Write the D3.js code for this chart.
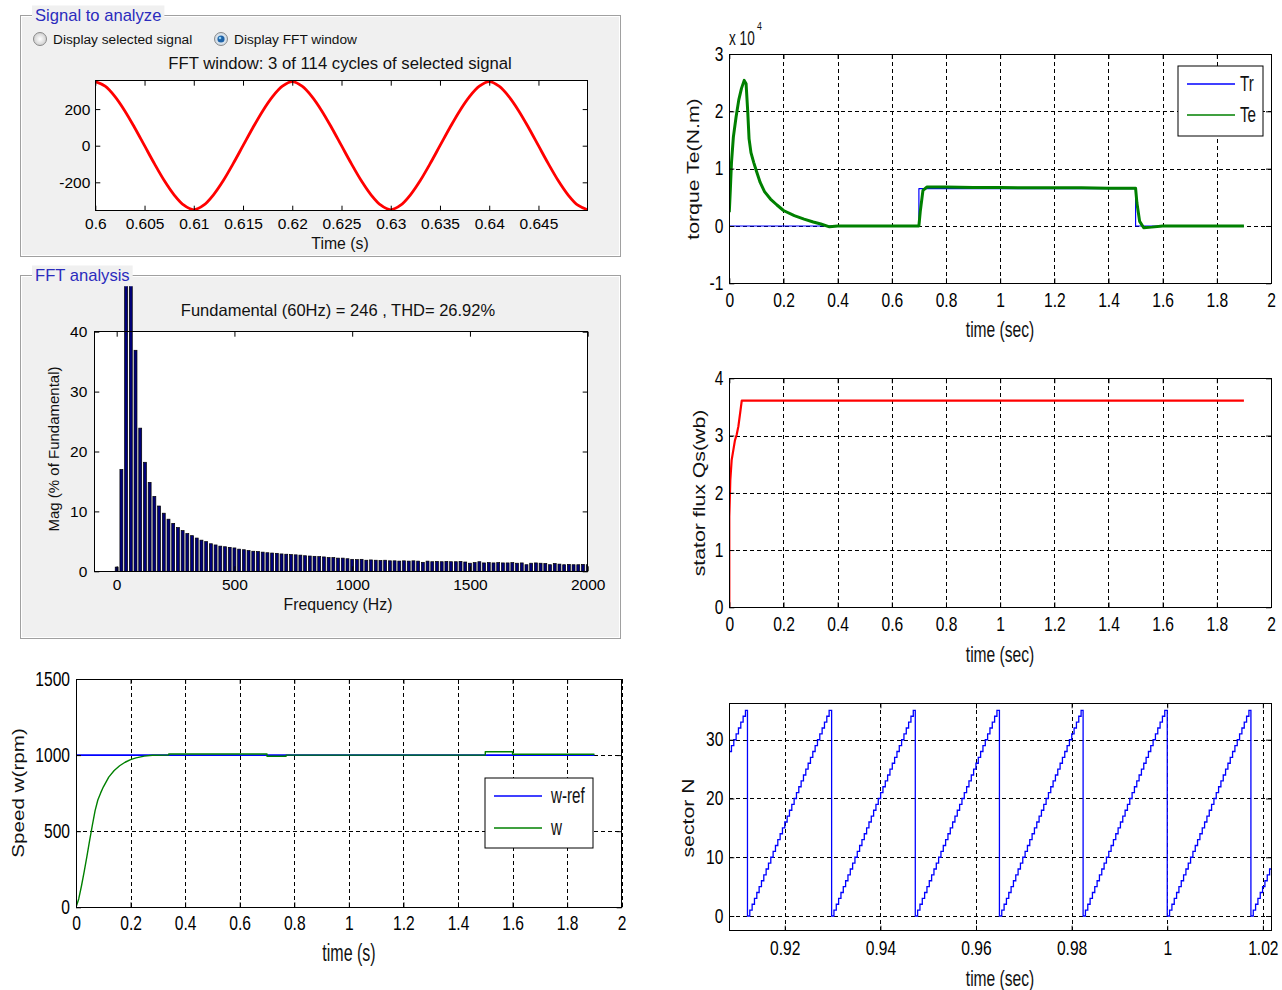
<!DOCTYPE html>
<html>
<head>
<meta charset="utf-8">
<script src="https://cdn.jsdelivr.net/npm/d3@7"></script>
<style>
  body { margin: 0; background: #fff; }
  svg text { font-family: "Liberation Sans", Arial, sans-serif; }
</style>
</head>
<body>
<svg id="fig" width="1282" height="990"></svg>
<script>
// ================= data =================
// signal in the FFT window (sampled every 1 ms from 0.6 s)
const sigStart = 0.6, sigStep = 0.001;
const sigValues = [350, 325, 268, 190, 98, 0, -98, -190, -268, -325, -350,
                   -325, -268, -190, -98, 0, 98, 190, 268, 325, 350,
                   325, 268, 190, 98, 0, -98, -190, -268, -325, -350,
                   -325, -268, -190, -98, 0, 98, 190, 268, 325, 350,
                   325, 268, 190, 98, 0, -98, -190, -268, -325, -350];
const sigXTicks = [0.6, 0.605, 0.61, 0.615, 0.62, 0.625, 0.63, 0.635, 0.64, 0.645];
const sigYTicks = [-200, 0, 200];

// FFT spectrum, one bar every 20 Hz from 0 to 2000 Hz (% of fundamental)
const fftStep = 20;
const fftMag = [0.7, 17.0, 48, 100, 36.9, 23.9, 18.2, 14.85, 12.5, 10.9,
                9.7, 8.7, 8.0, 7.3, 6.8, 6.3, 5.95, 5.55, 5.2, 4.95,
                4.6, 4.4, 4.2, 4.1, 4.0, 3.9, 3.7, 3.6, 3.45, 3.35,
                3.3, 3.2, 3.1, 3.05, 3.0, 2.9, 2.85, 2.8, 2.75, 2.7,
                2.6, 2.55, 2.5, 2.45, 2.4, 2.3, 2.3, 2.2, 2.2, 2.1,
                2.0, 1.95, 2.0, 1.85, 1.9, 1.85, 1.8, 1.85, 1.75, 1.75,
                1.7, 1.75, 1.7, 1.75, 1.7, 1.5, 1.7, 1.6, 1.65, 1.6,
                1.65, 1.6, 1.6, 1.65, 1.55, 1.35, 1.45, 1.6, 1.4, 1.45,
                1.4, 1.45, 1.4, 1.4, 1.45, 1.35, 1.4, 1.1, 1.35, 1.4,
                1.35, 1.3, 1.1, 1.3, 1.2, 1.1, 1.15, 1.1, 1.1, 1.15, 1.1];
const fftXTicks = [0, 500, 1000, 1500, 2000];
const fftYTicks = [0, 10, 20, 30, 40];

// speed (rpm)
const speedRefT = [0, 1.9];
const speedRef = [1000, 1000];
const speedT = [0, 0.01, 0.02, 0.03, 0.04, 0.05, 0.06, 0.07, 0.08, 0.09, 0.1, 0.12, 0.14, 0.16, 0.18,
                0.2, 0.22, 0.25, 0.28, 0.34, 0.34, 0.7, 0.7, 0.77, 0.77, 1.5, 1.5, 1.6, 1.6, 1.9];
const speedW = [0, 55, 140, 235, 335, 440, 540, 635, 705, 750, 790, 855, 899, 930, 953,
                970, 982, 993, 999, 1000, 1007, 1007, 992, 992, 1000, 1000, 1022, 1022, 1006, 1006];
const speedXTicks = [0, 0.2, 0.4, 0.6, 0.8, 1, 1.2, 1.4, 1.6, 1.8, 2];
const speedYTicks = [0, 500, 1000, 1500];

// torque (N.m)
const trT = [0, 0.7, 0.7, 1.5, 1.5, 1.9];
const trV = [0, 0, 6500, 6500, 0, 0];
const teT = [0, 0.004, 0.008, 0.015, 0.025, 0.035, 0.045, 0.055, 0.062, 0.068, 0.073, 0.08, 0.09, 0.1,
             0.114, 0.13, 0.152, 0.175, 0.2, 0.24, 0.276, 0.31, 0.338, 0.37, 0.4, 0.5, 0.6, 0.7, 0.705,
             0.715, 0.73, 0.8, 0.9, 1.0, 1.1, 1.2, 1.3, 1.4, 1.5, 1.505, 1.515, 1.53, 1.56, 1.6, 1.7, 1.8, 1.9];
const teV = [2400, 6500, 11000, 15500, 19000, 22000, 24000, 25400, 24800, 20000, 15200, 12800, 11100, 9600,
             7600, 6000, 4700, 3700, 2700, 1800, 1200, 700, 350, -150, 0, 0, 0, 0, 2500,
             6200, 6800, 6800, 6700, 6700, 6650, 6650, 6650, 6600, 6600, 4000, 800, -300, -200, 0, 0, 0, 0];
const timeTicks = [0, 0.2, 0.4, 0.6, 0.8, 1, 1.2, 1.4, 1.6, 1.8, 2];
const torqueYTicks = [-10000, 0, 10000, 20000, 30000];

// stator flux (Wb)
const fluxT = [0, 0, 0.0037, 0.0087, 0.015, 0.021, 0.027, 0.0335, 0.04, 0.046, 1.9];
const fluxV = [0, 1.58, 2.22, 2.57, 2.75, 2.92, 3.01, 3.16, 3.39, 3.61, 3.61];
const fluxYTicks = [0, 1, 2, 3, 4];

// sector number: reset instants and the 36 sector levels stepped through each turn
const sectorResets = [0.8947, 0.9122, 0.9298, 0.9473, 0.9649, 0.9824, 1.0000, 1.0175];
const sectorLevels = [0, 1, 2, 3, 4, 5, 6, 7, 8, 9, 10, 11, 12, 13, 14, 15, 16, 17,
                      18, 19, 20, 21, 22, 23, 24, 25, 26, 27, 28, 29, 30, 31, 32, 33, 34, 35];
const sectorStepTime = 0.000488;
const sectorXTicks = [0.92, 0.94, 0.96, 0.98, 1.0, 1.02];
const sectorYTicks = [0, 10, 20, 30];

// ================= helpers =================
const FONT = '"Liberation Sans", Arial, sans-serif';
const svg = d3.select('#fig');
let clipId = 0;

function num(d) { return String(+d.toFixed(3)); }

// a MATLAB-like axes: white box, inward ticks on all sides, optional dashed grid
function makeAxes(o) {
  let g = svg.append('g').attr('transform', `translate(${o.left},${o.top})`);
  let x = d3.scaleLinear().domain(o.xDomain).range([0, o.width]);
  let y = d3.scaleLinear().domain(o.yDomain).range([o.height, 0]);
  g.append('rect').attr('width', o.width).attr('height', o.height).attr('fill', '#fff');

  if (o.grid) {
    let gx = g.append('g').attr('transform', `translate(0,${o.height})`)
      .call(d3.axisBottom(x).tickValues(o.xTicks).tickSize(-o.height).tickFormat(''));
    let gy = g.append('g')
      .call(d3.axisLeft(y).tickValues(o.yTicks).tickSize(-o.width).tickFormat(''));
    [gx, gy].forEach(s => {
      s.select('.domain').remove();
      s.selectAll('line').attr('stroke', '#000').attr('stroke-dasharray', '4,3')
        .attr('shape-rendering', 'crispEdges');
    });
  }

  clipId++;
  let ct = o.clipTop || 0;
  g.append('clipPath').attr('id', 'clip' + clipId)
    .append('rect').attr('y', -ct).attr('width', o.width).attr('height', o.height + ct);
  let plot = g.append('g').attr('clip-path', `url(#clip${clipId})`);

  let sx = o.squeeze || 1;
  let tk = 5;
  let bottom = g.append('g').attr('transform', `translate(0,${o.height})`)
    .call(d3.axisBottom(x).tickValues(o.xTicks).tickSize(-tk).tickSizeOuter(0)
      .tickPadding(o.xPad).tickFormat(o.xFmt || num));
  let left = g.append('g')
    .call(d3.axisLeft(y).tickValues(o.yTicks).tickSize(-tk).tickSizeOuter(0)
      .tickPadding(o.yPad).tickFormat(o.yFmt || num));
  let top = g.append('g')
    .call(d3.axisTop(x).tickValues(o.xTicks).tickSize(-tk).tickSizeOuter(0).tickFormat(''));
  let right = g.append('g').attr('transform', `translate(${o.width},0)`)
    .call(d3.axisRight(y).tickValues(o.yTicks).tickSize(-tk).tickSizeOuter(0).tickFormat(''));
  [bottom, left, top, right].forEach(s => s.select('.domain').remove());
  [bottom, left].forEach(s => s.attr('font-size', o.fontSize).attr('font-family', FONT).attr('color', '#000'));
  [top, right].forEach(s => s.attr('color', '#000'));
  bottom.selectAll('text').attr('transform', `scale(${sx},1)`);
  left.selectAll('text').attr('x', -o.yPad / sx).attr('transform', `scale(${sx},1)`);

  g.append('rect').attr('width', o.width).attr('height', o.height)
    .attr('fill', 'none').attr('stroke', '#000').attr('shape-rendering', 'crispEdges');
  return { x, y, plot };
}

function addText(x, y, str, size, opts) {
  opts = opts || {};
  let sx = opts.sx || 1, sy = opts.sy || 1;
  let t = svg.append('text')
    .attr('transform', `translate(${x},${y}) rotate(${opts.rotate || 0}) scale(${sx},${sy})`)
    .attr('font-size', size)
    .attr('text-anchor', opts.anchor || 'middle')
    .attr('fill', opts.fill || '#111')
    .text(str);
  return t;
}

function drawLine(a, xs, ys, color, width, curve) {
  let pts = xs.map((t, i) => [t, ys[i]]);
  a.plot.append('path').datum(pts)
    .attr('fill', 'none').attr('stroke', color).attr('stroke-width', width)
    .attr('stroke-linejoin', 'round')
    .attr('d', d3.line().x(d => a.x(d[0])).y(d => a.y(d[1])).curve(curve || d3.curveLinear));
}

function legend(x0, y0, w, h, items, size, textX) {
  svg.append('rect').attr('x', x0).attr('y', y0).attr('width', w).attr('height', h)
    .attr('fill', '#fff').attr('stroke', '#000');
  items.forEach(it => {
    svg.append('line').attr('x1', x0 + 9).attr('x2', x0 + 57).attr('y1', it.y).attr('y2', it.y)
      .attr('stroke', it.color).attr('stroke-width', 1.5);
    addText(x0 + textX, it.y + 7, it.label, size, { anchor: 'start', sx: 0.8, sy: 1.15 });
  });
}

function guiPanel(x0, y0, x1, y1, title) {
  svg.append('rect').attr('x', x0 + 0.5).attr('y', y0 + 0.5)
    .attr('width', x1 - x0).attr('height', y1 - y0)
    .attr('fill', '#f0f0f0').attr('stroke', '#a0a0a0');
  svg.append('rect').attr('x', x0 + 1.5).attr('y', y0 + 1.5)
    .attr('width', x1 - x0 - 2).attr('height', y1 - y0 - 2)
    .attr('fill', 'none').attr('stroke', '#fff');
  let bg = svg.append('rect').attr('fill', '#f0f0f0');
  let t = svg.append('text').attr('x', x0 + 15).attr('y', y0 + 5.5)
    .attr('font-size', 16.6).attr('fill', '#2b2bbd').text(title);
  let bb = t.node().getBBox();
  bg.attr('x', bb.x - 3).attr('y', bb.y).attr('width', bb.width + 6).attr('height', bb.height);
}

function radio(cx, cy, selected, label) {
  let grad = selected ? 'url(#radioOn)' : 'url(#radioOff)';
  svg.append('circle').attr('cx', cx).attr('cy', cy).attr('r', 6.5)
    .attr('fill', grad).attr('stroke', '#8a8a8a');
  if (selected) {
    svg.append('circle').attr('cx', cx).attr('cy', cy).attr('r', 3.6).attr('fill', '#1f63a8');
    svg.append('circle').attr('cx', cx - 1).attr('cy', cy - 1).attr('r', 1.3).attr('fill', '#8fd3f5');
  }
  addText(cx + 13, cy + 5, label, 13.7, { anchor: 'start' });
}

let defs = svg.append('defs');
let g1 = defs.append('radialGradient').attr('id', 'radioOff');
g1.append('stop').attr('offset', '0%').attr('stop-color', '#ffffff');
g1.append('stop').attr('offset', '100%').attr('stop-color', '#cfcfcf');
let g2 = defs.append('radialGradient').attr('id', 'radioOn');
g2.append('stop').attr('offset', '0%').attr('stop-color', '#ffffff');
g2.append('stop').attr('offset', '100%').attr('stop-color', '#c9d7e3');

// ================= Signal to analyze panel =================
guiPanel(20, 15, 620, 256, 'Signal to analyze');
radio(40, 39, false, 'Display selected signal');
radio(221, 39, true, 'Display FFT window');
addText(340, 69, 'FFT window: 3 of 114 cycles of selected signal', 16.7);

let sig = makeAxes({
  left: 95.3, top: 80.7, width: 492.4, height: 130,
  xDomain: [0.6, 0.65], yDomain: [-355, 355],
  xTicks: sigXTicks, yTicks: sigYTicks,
  xPad: 7, yPad: 5, fontSize: 15.5
});
drawLine(sig, sigValues.map((v, i) => sigStart + i * sigStep), sigValues, '#ff0000', 2.8, d3.curveCatmullRom);
addText(340, 249, 'Time (s)', 15.8);

// ================= FFT analysis panel =================
guiPanel(20, 275, 620, 638, 'FFT analysis');
addText(338, 316, 'Fundamental (60Hz) = 246 , THD= 26.92%', 16.5);

let fft = makeAxes({
  left: 94.3, top: 331.7, width: 493.4, height: 239.6,
  xDomain: [-95, 2000], yDomain: [0, 40],
  xTicks: fftXTicks, yTicks: fftYTicks,
  xPad: 8, yPad: 7, fontSize: 15.5, clipTop: 45.5
});
let bw = (fft.x(fftStep) - fft.x(0)) * 0.62;
fft.plot.selectAll('rect.bar')
  .data(fftMag)
  .enter()
  .append('rect')
  .attr('class', 'bar')
  .attr('x', (d, i) => fft.x(i * fftStep) - bw / 2)
  .attr('y', d => fft.y(d))
  .attr('width', bw)
  .attr('height', d => fft.y(0) - fft.y(d))
  .attr('fill', '#00007a')
  .attr('stroke', '#000')
  .attr('stroke-width', 0.7);
addText(338, 610, 'Frequency (Hz)', 15.8);
addText(59, 449, 'Mag (% of Fundamental)', 15, { rotate: -90 });

// ================= speed =================
let sp = makeAxes({
  left: 76, top: 679, width: 545.7, height: 228.3,
  xDomain: [0, 2], yDomain: [0, 1500],
  xTicks: speedXTicks, yTicks: speedYTicks,
  xPad: 9, yPad: 6, fontSize: 19.5, squeeze: 0.8, grid: true
});
drawLine(sp, speedRefT, speedRef, '#0000ff', 1.6);
drawLine(sp, speedT, speedW, '#008000', 1.4);
addText(349, 961, 'time (s)', 20, { sx: 0.8, sy: 1.15 });
addText(24, 793, 'Speed w(rpm)', 16, { rotate: -90, sx: 1.29 });
legend(485, 778, 108, 70, [
  { y: 796, color: '#0000ff', label: 'w-ref' },
  { y: 828, color: '#008000', label: 'w' }
], 19, 66);

// ================= torque =================
let tq = makeAxes({
  left: 729.3, top: 54, width: 541.7, height: 229.3,
  xDomain: [0, 2], yDomain: [-10000, 30000],
  xTicks: timeTicks, yTicks: torqueYTicks,
  xPad: 10, yPad: 6, fontSize: 19.5, squeeze: 0.8, grid: true,
  yFmt: d => String(d / 10000)
});
drawLine(tq, trT, trV, '#0000ff', 1.2);
drawLine(tq, teT, teV, '#008000', 3);
addText(1000, 337, 'time (sec)', 19.5, { sx: 0.8, sy: 1.15 });
addText(699, 169, 'torque Te(N.m)', 16, { rotate: -90, sx: 1.33 });
addText(729, 45, 'x 10', 17, { anchor: 'start', sx: 0.8, sy: 1.15 });
addText(757, 30, '4', 11, { anchor: 'start', sx: 0.8 });
legend(1178, 66, 85, 70, [
  { y: 84, color: '#0000ff', label: 'Tr' },
  { y: 115, color: '#008000', label: 'Te' }
], 19, 62);

// ================= stator flux =================
let fl = makeAxes({
  left: 729.3, top: 378.3, width: 541.7, height: 229,
  xDomain: [0, 2], yDomain: [0, 4],
  xTicks: timeTicks, yTicks: fluxYTicks,
  xPad: 10, yPad: 6, fontSize: 19.5, squeeze: 0.8, grid: true
});
drawLine(fl, fluxT, fluxV, '#ff0000', 2.2);
addText(1000, 662, 'time (sec)', 19.5, { sx: 0.8, sy: 1.15 });
addText(705, 493, 'stator flux Qs(wb)', 16, { rotate: -90, sx: 1.33 });

// ================= sector =================
let sectorPts = [];
sectorResets.forEach(r => sectorLevels.forEach((n, k) => sectorPts.push([r + k * sectorStepTime, n])));
let se = makeAxes({
  left: 729.3, top: 703.3, width: 541.7, height: 227.4,
  xDomain: [0.9084, 1.0217], yDomain: [-2.5, 36.2],
  xTicks: sectorXTicks, yTicks: sectorYTicks,
  xPad: 10, yPad: 6, fontSize: 19.5, squeeze: 0.8, grid: true
});
se.plot.append('path').datum(sectorPts)
  .attr('fill', 'none').attr('stroke', '#0000ff').attr('stroke-width', 1.3)
  .attr('d', d3.line().x(d => se.x(d[0])).y(d => se.y(d[1])).curve(d3.curveStepAfter));
addText(1000, 986, 'time (sec)', 19.5, { sx: 0.8, sy: 1.15 });
addText(694, 818, 'sector N', 16, { rotate: -90, sx: 1.33 });
</script>
</body>
</html>
